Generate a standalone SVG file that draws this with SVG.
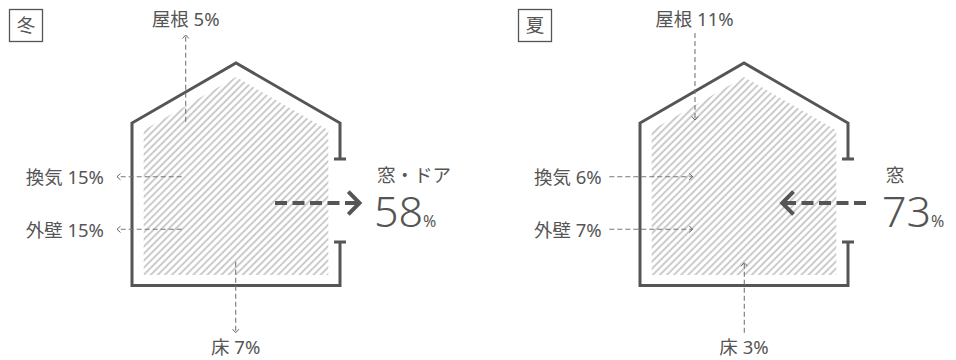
<svg xmlns="http://www.w3.org/2000/svg" width="956" height="360" viewBox="0 0 956 360">
<defs>
<pattern id="hatch" width="5" height="5" patternUnits="userSpaceOnUse" patternTransform="rotate(45)">
<rect x="0" y="0" width="2" height="5" fill="#cccccc"/>
</pattern>
<marker id="hs" viewBox="0 0 8 8" refX="5" refY="4" markerWidth="8" markerHeight="8" markerUnits="userSpaceOnUse" orient="auto">
<path d="M1.5,0.8 L5,4 L1.5,7.2" fill="none" stroke="#666" stroke-width="1"/>
</marker>
</defs>
<style>
text{font-family:"Noto Sans","Noto Sans CJK JP",sans-serif;fill:#555}
.lbl{font-size:18.5px}
.big{font-size:43px;font-weight:300}
.pct{font-size:16px;font-weight:400}
.wall{fill:none;stroke:#555;stroke-width:3}
.box{fill:none;stroke:#555;stroke-width:1.3}
.thin{fill:none;stroke:#777;stroke-width:1.1;stroke-dasharray:5 3}
.thick{fill:none;stroke:#555;stroke-width:4;stroke-dasharray:12 5.5}
.chev{fill:none;stroke:#555;stroke-width:4}
</style>
<g id="winter-house">
<polygon points="143.7,130.3 236,77 328.3,130.3 328.3,275 143.7,275" fill="url(#hatch)"/>
<path class="wall" d="M340,159 V123 L236,63 L132,123 V285.5 H340 V242"/>
<path class="wall" d="M334,159 H346 M334,242 H346"/>
</g>
<g id="summer-house">
<polygon points="651.7,130.3 744,77 836.3,130.3 836.3,275 651.7,275" fill="url(#hatch)"/>
<path class="wall" d="M848,159 V123 L744,63 L640,123 V285.5 H848 V242"/>
<path class="wall" d="M842,159 H854 M842,242 H854"/>
</g>
<g id="winter-tag">
<rect class="box" x="9.5" y="9.5" width="33" height="32"/>
<text class="lbl" x="26" y="32" text-anchor="middle">冬</text>
</g>
<g id="summer-tag">
<rect class="box" x="518.5" y="9.5" width="33" height="32"/>
<text class="lbl" x="535" y="32" text-anchor="middle">夏</text>
</g>
<g id="connectors">
<path class="thin" d="M185.7,121.7 V35" marker-end="url(#hs)"/>
<path class="thin" d="M181.7,176.7 H117" marker-end="url(#hs)"/>
<path class="thin" d="M181.7,229.3 H117" marker-end="url(#hs)"/>
<path class="thin" d="M235.7,261.7 V332.7" marker-end="url(#hs)"/>
<path class="thick" d="M275,203 H358"/>
<path class="chev" d="M348.3,191.7 L359.5,203 L348.3,214.3"/>
<path class="thin" d="M695,33 V120" marker-end="url(#hs)"/>
<path class="thin" d="M609.3,176.7 H692.7" marker-end="url(#hs)"/>
<path class="thin" d="M609.3,229.3 H692.7" marker-end="url(#hs)"/>
<path class="thin" d="M744.3,332.7 V262.7" marker-end="url(#hs)"/>
<path class="thick" d="M866,203 H783"/>
<path class="chev" d="M793.5,191.7 L782.2,203 L793.5,214.3"/>
</g>
<g id="winter-labels">
<text class="lbl" x="185.7" y="26" text-anchor="middle">屋根 5%</text>
<text class="lbl" x="104" y="183.5" text-anchor="end">換気 15%</text>
<text class="lbl" x="104" y="236.5" text-anchor="end">外壁 15%</text>
<text class="lbl" x="235.7" y="354" text-anchor="middle">床 7%</text>
<text class="lbl" x="377" y="181.5">窓・ドア</text>
<text class="big" x="374" y="227">58<tspan class="pct">%</tspan></text>
</g>
<g id="summer-labels">
<text class="lbl" x="694.5" y="26" text-anchor="middle">屋根 11%</text>
<text class="lbl" x="601.7" y="183.5" text-anchor="end">換気 6%</text>
<text class="lbl" x="601.7" y="236.5" text-anchor="end">外壁 7%</text>
<text class="lbl" x="744" y="354" text-anchor="middle">床 3%</text>
<text class="lbl" x="885.7" y="181.5">窓</text>
<text class="big" x="882" y="227">73<tspan class="pct">%</tspan></text>
</g>
</svg>
